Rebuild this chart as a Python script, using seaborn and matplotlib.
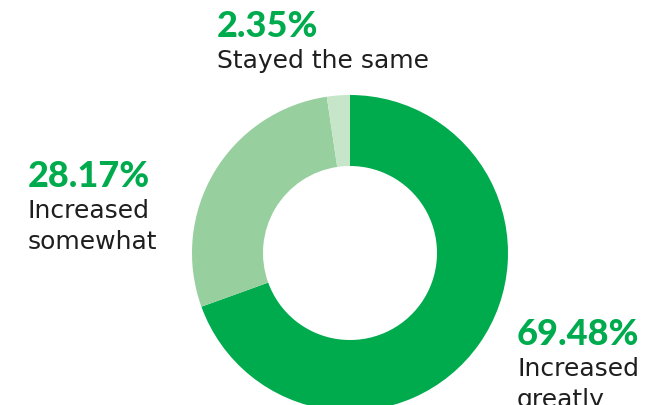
import matplotlib
matplotlib.use("Agg")
import matplotlib.pyplot as plt
import seaborn as sns

categories = ["Increased greatly", "Increased somewhat", "Stayed the same"]
shares = [69.48, 28.17, 2.35]
colors = ["#00AB4E", "#97CF9E", "#C6E5C9"]

sns.set_theme(style="white")
plt.rcParams["font.family"] = ["DejaVu Sans"]

W, H = 646, 406
fig = plt.figure(figsize=(W / 100, H / 100), dpi=100)
ax = fig.add_axes([0, 0, 1, 1])

cx, cy, r = 350, H - 254, 158
ax.pie(shares, colors=colors, startangle=90, counterclock=False,
       center=(cx, cy), radius=r,
       wedgeprops=dict(width=71, linewidth=0))
ax.set_xlim(0, W)
ax.set_ylim(0, H)
ax.set_aspect("equal")
ax.axis("off")

green = "#00AB4E"
dark = "#1E1E1E"
# label blocks: (x, baseline of percentage) in pixels from top-left
spots = {
    "Stayed the same": (217, 37, ["Stayed the same"]),
    "Increased somewhat": (28, 187, ["Increased", "somewhat"]),
    "Increased greatly": (517, 345, ["Increased", "greatly"]),
}
for cat, val in zip(categories, shares):
    x, yb, lines = spots[cat]
    fig.text(x / W, 1 - yb / H, f"{val:.2f}%", color=green, fontsize=26,
             fontweight="black", family=["Lato", "DejaVu Sans"],
             va="baseline", ha="left")
    for i, line in enumerate(lines):
        fig.text(x / W, 1 - (yb + 31 * (i + 1)) / H, line, color=dark,
                 fontsize=18, va="baseline", ha="left")

fig.savefig("out.png", dpi=100, facecolor="white")
